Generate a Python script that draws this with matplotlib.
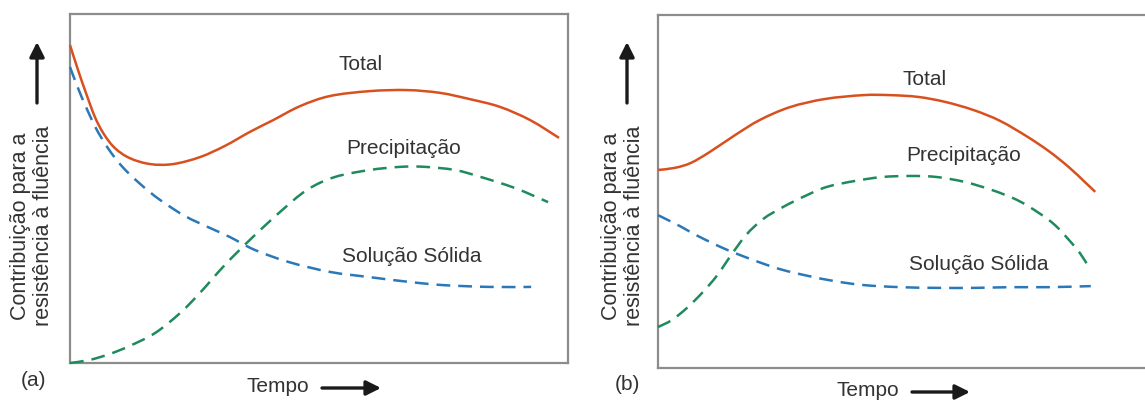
import matplotlib
matplotlib.use("Agg")
from matplotlib import pyplot as plt
from matplotlib.patches import FancyArrowPatch, PathPatch
from matplotlib.path import Path

plt.rcParams['font.family'] = ['Liberation Sans', 'DejaVu Sans']

# (a) tempo x contribuição
tempo_a_total = [0, 0.16, 0.32, 0.50, 0.68, 0.90, 1.20, 1.61, 2.07, 2.61, 3.11, 3.61, 4.08,
                 4.62, 5.22, 6.02, 6.77, 7.43, 8.03, 8.63, 9.24, 9.82]
total_a = [9.11, 8.40, 7.74, 7.05, 6.56, 6.16, 5.87, 5.70, 5.70, 5.90, 6.22, 6.62, 6.96,
           7.36, 7.65, 7.79, 7.82, 7.74, 7.56, 7.34, 6.96, 6.45]

tempo_a_prec = [0, 0.40, 0.80, 1.20, 1.71, 2.21, 2.61, 3.11, 3.65, 4.22, 4.76, 5.32, 6.02,
                6.63, 7.13, 7.73, 8.25, 8.94, 9.60]
prec_a = [0, 0.09, 0.26, 0.49, 0.86, 1.43, 2.01, 2.81, 3.58, 4.33, 4.96, 5.33, 5.53,
          5.62, 5.62, 5.53, 5.33, 5.01, 4.61]

tempo_a_sol = [0, 0.16, 0.32, 0.52, 0.76, 1.04, 1.41, 1.81, 2.31, 2.81, 3.21, 3.71, 4.40,
               5.22, 6.02, 6.83, 7.51, 8.43, 9.26]
sol_a = [8.48, 7.88, 7.34, 6.73, 6.16, 5.64, 5.13, 4.67, 4.21, 3.87, 3.61, 3.24, 2.89,
         2.61, 2.46, 2.32, 2.23, 2.18, 2.18]

# (b)
tempo_b_total = [0, 0.34, 0.66, 1.04, 1.55, 2.05, 2.65, 3.35, 4.12, 4.66, 5.22, 5.76, 6.33,
                 6.87, 7.43, 7.87, 8.25, 8.57, 8.78]
total_b = [5.61, 5.67, 5.81, 6.12, 6.60, 7.03, 7.39, 7.62, 7.73, 7.73, 7.68, 7.54, 7.31,
           7.00, 6.54, 6.12, 5.69, 5.27, 4.99]

tempo_b_prec = [0, 0.28, 0.58, 0.88, 1.18, 1.47, 1.77, 2.11, 2.51, 2.95, 3.39, 3.96, 4.50,
                5.06, 5.60, 6.16, 6.71, 7.21, 7.65, 7.97, 8.25, 8.47, 8.65]
prec_b = [1.16, 1.36, 1.70, 2.12, 2.61, 3.20, 3.77, 4.22, 4.56, 4.87, 5.13, 5.30, 5.41,
          5.44, 5.41, 5.27, 5.04, 4.76, 4.39, 4.05, 3.63, 3.26, 2.86]

tempo_b_sol = [0, 0.44, 0.80, 1.35, 1.91, 2.45, 3.01, 3.55, 4.12, 4.86, 5.60, 6.37, 7.07,
               7.87, 8.69]
sol_b = [4.33, 4.02, 3.74, 3.37, 3.06, 2.80, 2.61, 2.46, 2.35, 2.29, 2.27, 2.27, 2.29,
         2.29, 2.32]

rotulos = ["Total", "Precipitação", "Solução Sólida"]

cor_total = "#d9501f"
cor_prec = "#1f8a5c"
cor_sol = "#2a78b8"
cor_texto = "#333333"

W, H = 1145, 401
fig = plt.figure(figsize=(W / 100, H / 100), dpi=100)


def box(x0, y0, x1, y1):
    # caixa em pixels (origem no topo) -> fração da figura
    return [x0 / W, 1 - y1 / H, (x1 - x0) / W, (y1 - y0) / H]


def curva(ax, xs, ys, cor, ls):
    # curva suave (Catmull-Rom convertida em bezier cúbica) pelos pontos dados
    pts = list(zip(xs, ys))
    verts = [pts[0]]
    codes = [Path.MOVETO]
    n = len(pts)
    for i in range(n - 1):
        p0 = pts[max(i - 1, 0)]
        p1 = pts[i]
        p2 = pts[i + 1]
        p3 = pts[min(i + 2, n - 1)]
        c1 = (p1[0] + (p2[0] - p0[0]) / 6, p1[1] + (p2[1] - p0[1]) / 6)
        c2 = (p2[0] - (p3[0] - p1[0]) / 6, p2[1] - (p3[1] - p1[1]) / 6)
        verts += [c1, c2, p2]
        codes += [Path.CURVE4] * 3
    ax.add_patch(PathPatch(Path(verts, codes), fill=False, edgecolor=cor, lw=1.8,
                           linestyle=ls, capstyle='butt', clip_on=False, zorder=5))


ax_a = fig.add_axes(box(70, 14, 568, 363))
ax_b = fig.add_axes(box(658, 15, 1156, 368))

tracejado = (0, (5.5, 3.2))

curva(ax_a, tempo_a_total, total_a, cor_total, '-')
curva(ax_a, tempo_a_prec, prec_a, cor_prec, tracejado)
curva(ax_a, tempo_a_sol, sol_a, cor_sol, tracejado)

curva(ax_b, tempo_b_total, total_b, cor_total, '-')
curva(ax_b, tempo_b_prec, prec_b, cor_prec, tracejado)
curva(ax_b, tempo_b_sol, sol_b, cor_sol, tracejado)

pos_a = [(5.84, 8.54), (6.69, 6.16), (6.87, 3.04)]
pos_b = [(5.36, 8.16), (6.14, 6.03), (6.45, 2.92)]
for ax, pos in [(ax_a, pos_a), (ax_b, pos_b)]:
    for txt, (x, y) in zip(rotulos, pos):
        ax.text(x, y, txt, fontsize=15, color=cor_texto, ha='center', va='center')
    ax.set_xlim(0, 10)
    ax.set_ylim(0, 10)
    ax.set_xticks([])
    ax.set_yticks([])
    for s in ax.spines.values():
        s.set_color("#8c8c8c")
        s.set_linewidth(1.6)


def px(x, y):
    return (x / W, 1 - y / H)


def seta(p0, p1):
    fig.add_artist(FancyArrowPatch(px(*p0), px(*p1), transform=fig.transFigure,
                                   arrowstyle='-|>', mutation_scale=22, lw=2.4,
                                   color="#1a1a1a", shrinkA=0, shrinkB=0))


ylabel = "Contribuição para a\nresistência à fluência"
for xc, xa, xt, xs0, xs1, yt, let, xl, yl in [
        (32, 37, 278, 322, 381, 386, "(a)", 34, 380),
        (623, 627, 868, 912, 970, 390, "(b)", 627, 385)]:
    fig.text(*px(xc, 226), ylabel, rotation=90, ha='center', va='center',
             fontsize=15.5, color=cor_texto, linespacing=1.15)
    seta((xa, 103), (xa, 42))
    fig.text(*px(xt, yt), "Tempo", ha='center', va='center', fontsize=15, color=cor_texto)
    seta((xs0, yt + 2), (xs1, yt + 2))
    fig.text(*px(xl, yl), let, ha='center', va='center', fontsize=15, color=cor_texto)

fig.savefig("out.png", dpi=100)
